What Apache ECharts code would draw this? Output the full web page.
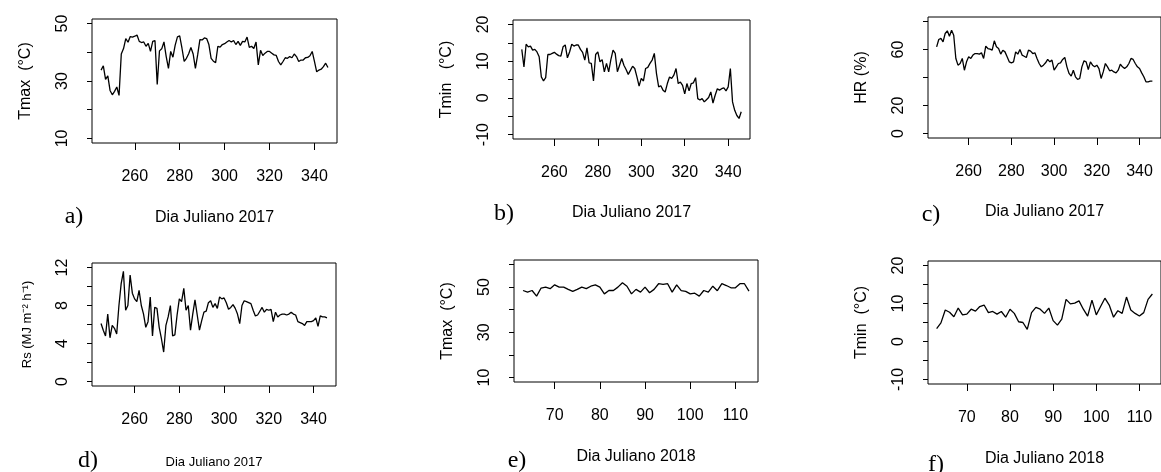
<!DOCTYPE html>
<html>
<head>
<meta charset="utf-8">
<title>Dia Juliano</title>
<script src="https://cdn.jsdelivr.net/npm/echarts@6/dist/echarts.min.js"></script>
<style>
  html, body { margin: 0; padding: 0; background: #fff; }
  #box { width: 1161px; height: 472px; }
</style>
</head>
<body>
<div id="box"></div>
<script>
// first julian day of each period
const start2017 = 245
const start2018 = 63

// 2017 series (day 245 .. 346)
const tmax2017 = [
  33.8, 35.3, 30.6, 31.8, 26.7, 25.2, 26.4, 27.9, 25.0, 39.4,
  41.3, 44.8, 43.5, 45.5, 45.3, 45.6, 46.0, 43.8, 43.4, 43.6,
  42.1, 43.1, 40.3, 43.8, 44.1, 28.8, 40.5, 41.2, 43.6, 38.5,
  34.4, 40.3, 38.3, 42.5, 45.4, 45.7, 41.5, 36.8, 37.9, 39.5,
  41.7, 39.4, 34.4, 39.1, 44.4, 44.3, 45.0, 44.8, 42.7, 37.9,
  36.9, 36.4, 42.1, 41.8, 42.7, 43.0, 43.6, 44.1, 43.6, 44.1,
  42.7, 43.8, 42.4, 43.8, 43.6, 45.3, 41.7, 42.1, 41.3, 43.6,
  35.6, 40.7, 38.9, 39.7, 40.3, 40.3, 39.7, 39.1, 38.9, 36.8,
  35.6, 36.8, 38.1, 37.9, 38.5, 38.1, 39.4, 38.5, 36.8, 37.3,
  37.3, 38.1, 38.2, 38.8, 40.3, 36.8, 33.2, 33.8, 34.1, 35.0,
  36.2, 34.7
]
const tmin2017 = [
  13.2, 8.4, 14.6, 13.9, 14.1, 13.0, 13.2, 12.5, 11.2, 5.7,
  4.6, 5.5, 11.8, 11.8, 12.1, 12.4, 11.9, 11.5, 11.4, 13.9,
  14.4, 10.9, 12.5, 14.6, 14.1, 14.4, 14.4, 13.2, 12.4, 10.3,
  13.6, 9.5, 9.4, 4.6, 11.8, 12.5, 9.8, 10.4, 7.1, 9.4,
  7.1, 10.4, 13.0, 12.1, 7.1, 8.9, 10.7, 8.9, 7.7, 6.4,
  7.5, 8.6, 8.0, 5.7, 3.2, 5.3, 4.6, 8.0, 8.3, 9.4,
  10.3, 12.1, 6.6, 3.0, 3.3, 2.1, 1.6, 3.9, 5.7, 5.3,
  6.2, 8.0, 3.9, 4.3, 3.4, 1.1, 3.9, 1.9, 3.9, 4.1,
  5.5, -0.2, -0.6, -0.2, -1.1, -0.5, 0.1, 1.6, -1.4, 0.7,
  2.5, 2.1, 2.5, 2.7, 1.9, 3.0, 8.0, -1.1, -3.4, -4.8,
  -5.6, -3.8
]
const hr2017 = [
  61.9, 67.1, 67.9, 65.5, 71.4, 73.3, 69.5, 73.8, 70.2, 53.6,
  48.8, 50.0, 53.6, 45.2, 51.2, 54.8, 53.6, 56.0, 57.1, 57.1,
  56.7, 57.6, 53.6, 62.4, 60.7, 60.2, 59.5, 66.2, 61.9, 60.7,
  56.7, 59.5, 58.3, 54.8, 51.2, 50.5, 51.2, 58.3, 56.7, 60.0,
  56.0, 55.2, 54.3, 59.5, 58.8, 57.1, 57.6, 53.6, 50.0, 47.6,
  48.8, 50.5, 52.9, 51.2, 52.4, 45.2, 47.6, 50.0, 50.5, 52.9,
  54.3, 47.6, 42.9, 41.0, 45.2, 40.5, 38.6, 39.3, 47.6, 51.9,
  51.2, 45.7, 51.2, 48.8, 47.6, 48.8, 46.4, 39.3, 44.0, 50.0,
  47.6, 44.8, 45.2, 44.0, 43.3, 45.2, 49.5, 47.6, 46.4, 47.6,
  50.0, 53.6, 52.9, 50.0, 47.6, 46.4, 43.3, 40.5, 36.9, 36.9,
  37.4, 37.4
]
const rs2017 = [
  6.1, 5.4, 4.8, 7.1, 4.6, 5.9, 5.6, 5.0, 8.0, 10.3,
  11.6, 7.5, 8.0, 11.2, 9.3, 8.7, 8.4, 9.6, 8.0, 7.1,
  5.7, 6.3, 8.9, 4.8, 7.8, 7.7, 5.7, 4.5, 3.1, 5.9,
  6.8, 8.0, 4.8, 4.9, 7.0, 8.7, 8.4, 9.8, 7.5, 8.0,
  5.4, 7.1, 8.6, 7.0, 5.4, 6.4, 7.3, 7.4, 8.3, 8.5,
  7.8, 8.2, 7.7, 8.9, 8.7, 8.8, 8.3, 7.6, 7.8, 8.1,
  7.7, 7.1, 6.1, 8.0, 8.5, 8.4, 8.3, 8.2, 7.5, 6.9,
  7.0, 7.4, 7.8, 7.3, 7.6, 7.5, 7.6, 6.3, 7.3, 6.8,
  7.0, 7.1, 7.1, 7.0, 7.1, 7.3, 7.1, 7.0, 6.3, 6.2,
  6.1, 5.9, 6.3, 6.3, 6.3, 6.4, 6.7, 5.8, 6.9, 6.8,
  6.8, 6.7
]

// 2018 series (day 63 .. 113)
const tmax2018 = [
  48.5, 47.8, 48.5, 46.0, 49.6, 50.0, 49.3, 51.0, 50.0, 50.0,
  49.0, 48.1, 49.0, 50.0, 49.3, 50.4, 51.0, 50.0, 47.0, 48.5,
  48.5, 50.0, 51.9, 50.4, 47.0, 49.0, 47.8, 50.0, 47.5, 49.0,
  51.5, 51.2, 51.5, 47.8, 51.0, 48.4, 48.1, 47.0, 47.3, 46.0,
  48.5, 47.8, 50.4, 48.4, 51.5, 50.7, 49.7, 49.7, 51.5, 51.5,
  48.2
]
const tmin2018 = [
  3.4, 4.9, 8.3, 7.7, 6.5, 8.8, 7.0, 7.2, 8.5, 8.0,
  9.2, 9.6, 7.6, 7.9, 7.2, 7.9, 6.4, 8.5, 7.4, 5.2,
  5.0, 3.2, 7.6, 9.0, 8.5, 7.4, 8.8, 5.5, 4.3, 5.9,
  11.1, 9.9, 10.1, 10.7, 8.5, 6.7, 10.9, 7.0, 9.2, 11.4,
  9.6, 6.4, 8.1, 7.4, 11.7, 8.3, 7.4, 6.7, 7.6, 11.1,
  12.5
]

// ticks and labels
const xTicks2017 = [260, 280, 300, 320, 340]
const xTicks2018 = [70, 80, 90, 100, 110]
const tmaxTicks = [10, 20, 30, 40, 50]
const tmaxLabels = [10, 30, 50]
const tmax18Ticks = [10, 20, 30, 40, 50, 60]
const tminTicks = [-10, -5, 0, 5, 10, 15, 20]
const tminLabels = [-10, 0, 10, 20]
const hrTicks = [0, 20, 40, 60, 80]
const hrLabels = [0, 20, 60]
const rsTicks = [0, 2, 4, 6, 8, 10, 12]
const rsLabels = [0, 4, 8, 12]

const sans = 'Liberation Sans, Arial, sans-serif'

// one entry per panel
const panels = [
  { grid: { left: 92, top: 19, width: 245, height: 124 }, start: start2017, values: tmax2017,
    x: [240.96, 350.04, xTicks2017], y: [8.4, 51.6, tmaxTicks, tmaxLabels],
    yName: 'Tmax  (°C)', xName: 'Dia Juliano 2017', xGap: 67, tag: 'a)', tagAt: [74, 217] },
  { grid: { left: 513, top: 20, width: 237, height: 119 }, start: start2017, values: tmin2017,
    x: [240.96, 350.04, xTicks2017], y: [-11.2, 21.2, tminTicks, tminLabels],
    yName: 'Tmin   (°C)', xName: 'Dia Juliano 2017', xGap: 66, tag: 'b)', tagAt: [504, 214] },
  { grid: { left: 928, top: 17, width: 242, height: 121 }, start: start2017, values: hr2017,
    x: [240.96, 350.04, xTicks2017], y: [-3.2, 83.2, hrTicks, hrLabels],
    yName: 'HR (%)', xName: 'Dia Juliano 2017', xGap: 66, tag: 'c)', tagAt: [931, 215] },
  { grid: { left: 92, top: 263, width: 244, height: 123 }, start: start2017, values: rs2017,
    x: [240.96, 350.04, xTicks2017], y: [-0.48, 12.48, rsTicks, rsLabels],
    yName: 'Rs (MJ m⁻² h⁻¹)', yNameSize: 13, xName: 'Dia Juliano 2017', xNameSize: 13, xGap: 70,
    tag: 'd)', tagAt: [88, 461] },
  { grid: { left: 514, top: 260, width: 244, height: 122 }, start: start2018, values: tmax2018,
    x: [61, 115, xTicks2018], y: [8, 62, tmax18Ticks, tmaxLabels],
    yName: 'Tmax  (°C)', xName: 'Dia Juliano 2018', xGap: 67, tag: 'e)', tagAt: [517, 461] },
  { grid: { left: 928, top: 261, width: 246, height: 123 }, start: start2018, values: tmin2018,
    x: [61, 115, xTicks2018], y: [-11.2, 21.2, tminTicks, tminLabels],
    yName: 'Tmin  (°C)', xName: 'Dia Juliano 2018', xGap: 67, tag: 'f)', tagAt: [936, 465] }
]

const option = {
  animation: false,
  backgroundColor: '#fff',
  textStyle: { fontFamily: sans, color: '#000' },
  grid: [], xAxis: [], yAxis: [], series: [], graphic: []
}

panels.forEach((p, i) => {
  option.grid.push(Object.assign({ show: true, borderColor: '#000', borderWidth: 1 }, p.grid))

  // axes sit on the box edge, never on zero
  option.xAxis.push({
    gridIndex: i, type: 'value', min: p.x[0], max: p.x[1], position: 'bottom',
    axisLine: { show: false, onZero: false },
    axisTick: { show: true, length: 7, customValues: p.x[2], lineStyle: { color: '#000' } },
    axisLabel: { customValues: p.x[2], margin: 26, fontSize: 16, color: '#000', fontFamily: sans },
    splitLine: { show: false },
    name: p.xName, nameLocation: 'middle', nameGap: p.xGap,
    nameTextStyle: { fontSize: p.xNameSize || 16, color: '#000', fontFamily: sans }
  })

  option.yAxis.push({
    gridIndex: i, type: 'value', min: p.y[0], max: p.y[1], position: 'left',
    axisLine: { show: false, onZero: false },
    axisTick: { show: true, length: 5, customValues: p.y[2], lineStyle: { color: '#000' } },
    axisLabel: { customValues: p.y[3], rotate: 90, margin: 21, fontSize: 16, color: '#000', fontFamily: sans },
    splitLine: { show: false },
    name: p.yName, nameLocation: 'middle', nameRotate: 90, nameGap: 58,
    nameTextStyle: { fontSize: p.yNameSize || 16, color: '#000', fontFamily: sans }
  })

  option.series.push({
    type: 'line', xAxisIndex: i, yAxisIndex: i,
    data: p.values.map((v, k) => [p.start + k, v]),
    showSymbol: false,
    lineStyle: { color: '#000', width: 1.3 }
  })

  // panel letter, serif like the paper
  option.graphic.push({
    type: 'text', x: p.tagAt[0], y: p.tagAt[1],
    style: { text: p.tag, font: '24px "Liberation Serif", serif', fill: '#000',
      textAlign: 'center', textVerticalAlign: 'middle' }
  })
})

const chart = echarts.init(document.getElementById('box'))
chart.setOption(option)
</script>
</body>
</html>
